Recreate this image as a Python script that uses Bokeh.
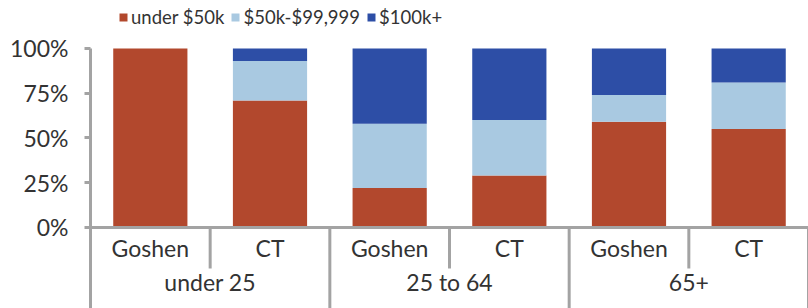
from bokeh.plotting import figure
from bokeh.models import (FactorRange, Range1d, ColumnDataSource, Legend, LegendItem,
                          CategoricalAxis, FixedTicker, NumeralTickFormatter)
from bokeh.embed import file_html
from bokeh.resources import INLINE

# ---- data ----
age_groups = ["under 25", "25 to 64", "65+"]
places = ["Goshen", "CT"]
series = ["under $50k", "$50k-$99,999", "$100k+"]
under_50k = [1.00, 0.71, 0.22, 0.29, 0.59, 0.55]
mid_50_100k = [0.00, 0.22, 0.36, 0.31, 0.15, 0.26]
over_100k = [0.00, 0.07, 0.42, 0.40, 0.26, 0.19]
y_ticks = [0, 0.25, 0.5, 0.75, 1.0]

colors = ["#B2482D", "#A9C9E1", "#2D4EA6"]
FONT = "Lato"
AXIS_GRAY = "#a3a3a3"
TXT = "#333333"

factors = [(g, s) for g in age_groups for s in places]
src = ColumnDataSource(dict(x=factors, a=under_50k, b=mid_50_100k, c=over_100k))

Y_BOTTOM = -0.4525
xr = FactorRange(*factors, factor_padding=0, group_padding=0, range_padding=0)
yr = Range1d(Y_BOTTOM, 1.268)

p = figure(x_range=xr, y_range=yr, width=808, height=308, output_backend="svg",
           toolbar_location=None, x_axis_location=None,
           min_border_left=90, min_border_right=0, min_border_top=0, min_border_bottom=0)
p.outline_line_color = None
p.xgrid.visible = False
p.ygrid.visible = False

rs = p.vbar_stack(["a", "b", "c"], x="x", width=0.62, source=src,
                  color=colors, line_color=None)

# y axis
ya = p.yaxis[0]
ya.ticker = FixedTicker(ticks=y_ticks)
ya.formatter = NumeralTickFormatter(format="0%")
ya.bounds = (Y_BOTTOM, 1.0)
ya.axis_line_color = AXIS_GRAY
ya.axis_line_width = 3
ya.major_tick_line_color = AXIS_GRAY
ya.major_tick_line_width = 3
ya.major_tick_out = 6
ya.major_tick_in = 0
ya.minor_tick_line_color = None
ya.major_label_standoff = 16
ya.major_label_text_font = FONT
ya.major_label_text_font_size = "23px"
ya.major_label_text_color = TXT

# x axis with leaf labels (fixed at y=0 inside the frame)
xa = CategoricalAxis(fixed_location=0)
xa.axis_line_color = AXIS_GRAY
xa.axis_line_width = 3
xa.major_tick_line_color = None
xa.major_tick_out = 0
xa.major_tick_in = 0
xa.minor_tick_line_color = None
xa.separator_line_color = None
xa.major_label_standoff = 7
xa.major_label_text_font = FONT
xa.major_label_text_font_size = "23px"
xa.major_label_text_color = TXT
xa.group_text_color = None
xa.group_text_font_size = "1px"
p.add_layout(xa, "below")

# group labels axis
p.extra_x_ranges = {"grp": FactorRange(*age_groups, range_padding=0, factor_padding=0)}
ga = CategoricalAxis(x_range_name="grp", fixed_location=-0.229)
ga.axis_line_color = None
ga.major_tick_line_color = None
ga.major_tick_out = 0
ga.major_tick_in = 0
ga.minor_tick_line_color = None
ga.major_label_standoff = 0
ga.major_label_text_font = FONT
ga.major_label_text_font_size = "23px"
ga.major_label_text_color = TXT
p.add_layout(ga, "below")

# separators between categories (short) and groups (long)
n = len(factors)
k = len(places)
short_x = [i for i in range(1, n) if i % k != 0]
long_x = [i for i in range(1, n + 1) if i % k == 0]
p.segment(x0=short_x, x1=short_x, y0=[0] * len(short_x), y1=[-0.229] * len(short_x),
          line_color=AXIS_GRAY, line_width=3)
p.segment(x0=long_x, x1=long_x, y0=[0] * len(long_x), y1=[Y_BOTTOM] * len(long_x),
          line_color=AXIS_GRAY, line_width=3)

legend = Legend(items=[LegendItem(label=s, renderers=[r]) for s, r in zip(series, rs)],
                location=(28, 280), orientation="horizontal")
legend.border_line_color = None
legend.background_fill_alpha = 0
legend.padding = 0
legend.margin = 0
legend.glyph_width = 10
legend.glyph_height = 10
legend.label_height = 10
legend.label_standoff = 3
legend.spacing = 6
legend.label_text_font = FONT
legend.label_text_font_size = "18.5px"
legend.label_text_color = TXT
p.add_layout(legend)

open("out.html", "w").write(file_html(p, INLINE))
